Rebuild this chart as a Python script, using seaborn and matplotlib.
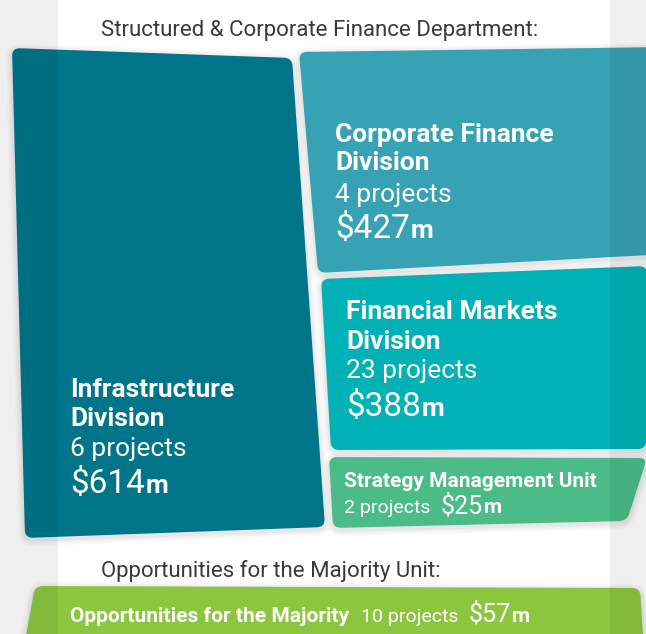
import numpy as np
import matplotlib
matplotlib.use("Agg")
import matplotlib.pyplot as plt
from matplotlib.path import Path
from matplotlib.patches import PathPatch, Rectangle
import matplotlib.transforms as mtransforms
import seaborn as sns

# ---- data ----
headings = ["Structured & Corporate Finance Department:",
            "Opportunities for the Majority Unit:"]
unit_names = [["Infrastructure", "Division"],
              ["Corporate Finance", "Division"],
              ["Financial Markets", "Division"],
              ["Strategy Management Unit"],
              ["Opportunities for the Majority"]]
projects = [6, 4, 23, 2, 10]
amounts = [614, 427, 388, 25, 57]

# ---- layout (pixel space, y down) ----
W, H = 646, 634
shapes = [
    [(12, 48), (292, 58), (325, 527), (25, 538)],
    [(299, 52), (668, 47), (668, 254), (318, 273)],
    [(321, 279), (647, 266), (646, 449), (331, 450)],
    [(329, 457), (647, 458), (627, 521), (333, 528)],
    [(35, 586), (640, 588), (646, 680), (18, 680)],
]
colors = ["#00758a", "#38a2b5", "#00b2b5", "#4bbb87", "#8cc63f"]
# (x, baselines for name lines, projects line, amount line)
anchors = [
    (70, [397, 426], 456, 493),
    (335, [142, 170], 202, 238),
    (346, [319, 349], 378, 416),
    (344, [487], 513, 513),
    (70, [622], 622, 622),
]
# font sizes: name, projects, amount
sizes = [(19, 19, 24), (19, 19, 24), (19, 19, 24), (15, 14, 18), (15, 14, 18)]

sns.set_theme(style="white")
plt.rcParams["font.family"] = ["Roboto", "DejaVu Sans"]


def rounded_path(pts, r):
    pts = np.array(pts, float)
    n = len(pts)
    verts, codes = [], []
    for i in range(n):
        p0, p1, p2 = pts[i - 1], pts[i], pts[(i + 1) % n]
        a = p1 + (p0 - p1) * r / np.linalg.norm(p0 - p1)
        b = p1 + (p2 - p1) * r / np.linalg.norm(p2 - p1)
        verts += [a, p1, b]
        codes += [Path.MOVETO if i == 0 else Path.LINETO, Path.CURVE3, Path.CURVE3]
    verts += [verts[0], verts[0]]
    codes += [Path.LINETO, Path.CLOSEPOLY]
    return Path(verts, codes)


fig = plt.figure(figsize=(W / 100, H / 100), dpi=100)
ax = fig.add_axes([0, 0, 1, 1])
ax.set_xlim(0, W)
ax.set_ylim(H, 0)
ax.axis("off")
fig.patch.set_facecolor("white")

shift = mtransforms.Affine2D().translate(0, -2)
for pts, c in zip(shapes, colors):
    p = rounded_path(pts, 8)
    # soft shadow
    for lw, al in [(9, 0.025), (6, 0.03), (3, 0.04)]:
        ax.add_patch(PathPatch(p, fc="none", ec="black", lw=lw, alpha=al, zorder=1,
                               transform=ax.transData + shift))
    ax.add_patch(PathPatch(p, fc=c, ec="none", zorder=2))

renderer = fig.canvas.get_renderer()


def right_edge(t, gap):
    bb = t.get_window_extent(renderer)
    return ax.transData.inverted().transform((bb.x1, bb.y0))[0] + gap


def run(x, y, parts):
    # draw text pieces one after another on a common baseline
    for s, size, weight, gap in parts:
        t = ax.text(x, y, s, fontsize=size, fontweight=weight, color="white",
                    va="baseline", ha="left", zorder=5)
        x = right_edge(t, gap)


for i, (x, name_y, proj_y, amt_y) in enumerate(anchors):
    fs_name, fs_proj, fs_amt = sizes[i]
    for line, y in zip(unit_names[i], name_y):
        t = ax.text(x, y, line, fontsize=fs_name, fontweight="bold", color="white",
                    va="baseline", zorder=5)
    amt = [(r"\$%d" % amounts[i], fs_amt, "normal", 1), ("m", fs_name, "bold", 0)]
    proj = ("%d projects" % projects[i], fs_proj, "normal", 10)
    if i < 3:
        run(x, proj_y, [proj])
        run(x, amt_y, amt)
    elif i == 3:
        run(x, proj_y, [proj] + amt)
    else:
        run(right_edge(t, 12), proj_y, [proj] + amt)

ax.text(101, 36, headings[0], fontsize=16, color="#3a3a3a", va="baseline", zorder=5)
ax.text(101, 577, headings[1], fontsize=16, color="#3a3a3a", va="baseline", zorder=5)

# grey page margins on both sides
for x0, x1 in [(0, 58), (610, W)]:
    ax.add_patch(Rectangle((x0, 0), x1 - x0, H, fc="black", ec="none", alpha=0.06, zorder=10))

fig.savefig("out.png", dpi=100)
